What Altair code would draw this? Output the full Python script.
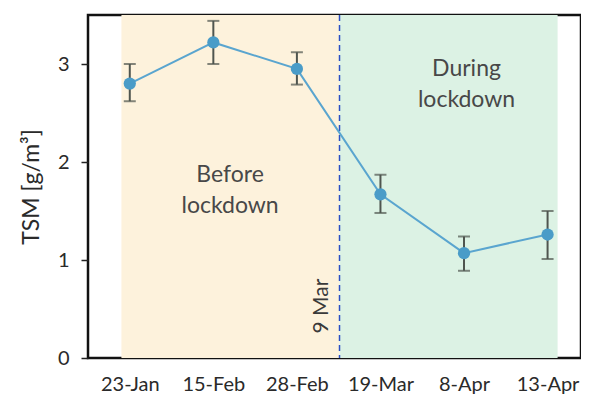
import altair as alt
import pandas as pd

dates = ["23-Jan", "15-Feb", "28-Feb", "19-Mar", "8-Apr", "13-Apr"]
pos = [0, 1, 2, 3, 4, 5]
tsm = [2.80, 3.22, 2.95, 1.67, 1.07, 1.26]
err_lo = [2.62, 3.00, 2.79, 1.48, 0.89, 1.01]
err_hi = [3.00, 3.44, 3.12, 1.87, 1.24, 1.50]

periods = ["Before lockdown", "During lockdown"]
period_start = [-0.1, 2.51]
period_end = [2.51, 5.12]
period_color = ["#fdf2dc", "#dcf2e4"]
label_x = [1.2, 4.03]
label_y = [1.87, 2.95]
lockdown_x = 2.51

FONT = "Lato"

df = pd.DataFrame({"pos": pos, "tsm": tsm, "lo": err_lo, "hi": err_hi, "date": dates})
bg = pd.DataFrame({"p": periods, "s": period_start, "e": period_end, "c": period_color,
                   "lx": label_x, "ly": label_y})

label_expr = "[" + ",".join(f"'{d}'" for d in dates) + "][datum.value]"

xs = alt.Scale(domain=[-0.5, 5.4], nice=False, zero=False)
ys = alt.Scale(domain=[0, 3.5], nice=False)

xaxis = alt.Axis(values=pos, labelExpr=label_expr, ticks=False, grid=False, domain=False,
                 title=None, labelFontSize=20, labelFont=FONT, labelColor="#2a2a2a",
                 labelPadding=16)
yaxis = alt.Axis(values=[0, 1, 2, 3], format="d", grid=False, domain=False, tickSize=7,
                 tickColor="#222", tickWidth=1.5, labelFontSize=20, labelFont=FONT,
                 labelColor="#2a2a2a", labelPadding=12, title="TSM [g/m³]", titleFontSize=23,
                 titleFont=FONT, titleFontWeight="normal", titleColor="#2a2a2a", titlePadding=14)

shade = alt.Chart(bg).mark_rect().encode(
    x=alt.X("s:Q", scale=xs, axis=xaxis),
    x2="e:Q",
    y=alt.value(0),
    y2=alt.value(343),
    color=alt.Color("c:N", scale=None),
)

period_text = alt.Chart(bg).mark_text(font=FONT, fontSize=23, color="#484848",
                                      lineBreak=" ", lineHeight=31).encode(
    x=alt.X("lx:Q", scale=xs),
    y=alt.Y("ly:Q", scale=ys),
    text="p:N",
)

vline = alt.Chart(pd.DataFrame({"x": [lockdown_x]})).mark_rule(
    color="#2a4fc4", strokeDash=[6, 4], strokeWidth=1.5).encode(
    x=alt.X("x:Q", scale=xs),
    y=alt.value(0),
    y2=alt.value(343),
)

vtext = alt.Chart(pd.DataFrame({"x": [2.30], "y": [0.53], "t": ["9 Mar"]})).mark_text(
    font=FONT, fontSize=21, color="#3a3a3a", angle=270).encode(
    x=alt.X("x:Q", scale=xs),
    y=alt.Y("y:Q", scale=ys),
    text="t:N",
)

line = alt.Chart(df).mark_line(color="#5aa5cf", strokeWidth=2).encode(
    x=alt.X("pos:Q", scale=xs),
    y=alt.Y("tsm:Q", scale=ys, axis=yaxis),
)

errbar = alt.Chart(df).mark_rule(color="#4f554f", strokeWidth=2).encode(
    x=alt.X("pos:Q", scale=xs),
    y=alt.Y("lo:Q", scale=ys),
    y2="hi:Q",
)

caps_lo = alt.Chart(df).mark_tick(color="#4f554f", thickness=2, size=12, orient="horizontal").encode(
    x=alt.X("pos:Q", scale=xs),
    y=alt.Y("lo:Q", scale=ys),
)
caps_hi = alt.Chart(df).mark_tick(color="#4f554f", thickness=2, size=12, orient="horizontal").encode(
    x=alt.X("pos:Q", scale=xs),
    y=alt.Y("hi:Q", scale=ys),
)

points = alt.Chart(df).mark_point(filled=True, size=150, color="#4a9cc8", opacity=1).encode(
    x=alt.X("pos:Q", scale=xs),
    y=alt.Y("tsm:Q", scale=ys),
)

chart = alt.layer(shade, period_text, vline, vtext, line, errbar, caps_lo, caps_hi, points).properties(
    width=493, height=343,
    autosize=alt.AutoSizeParams(type="none"),
    padding={"left": 80, "top": 7, "right": 0, "bottom": 40},
).configure(background="white", view=alt.ViewConfig(stroke="#111", strokeWidth=2.5))

chart.save("out.html", embed_options={"renderer": "svg", "actions": False})
